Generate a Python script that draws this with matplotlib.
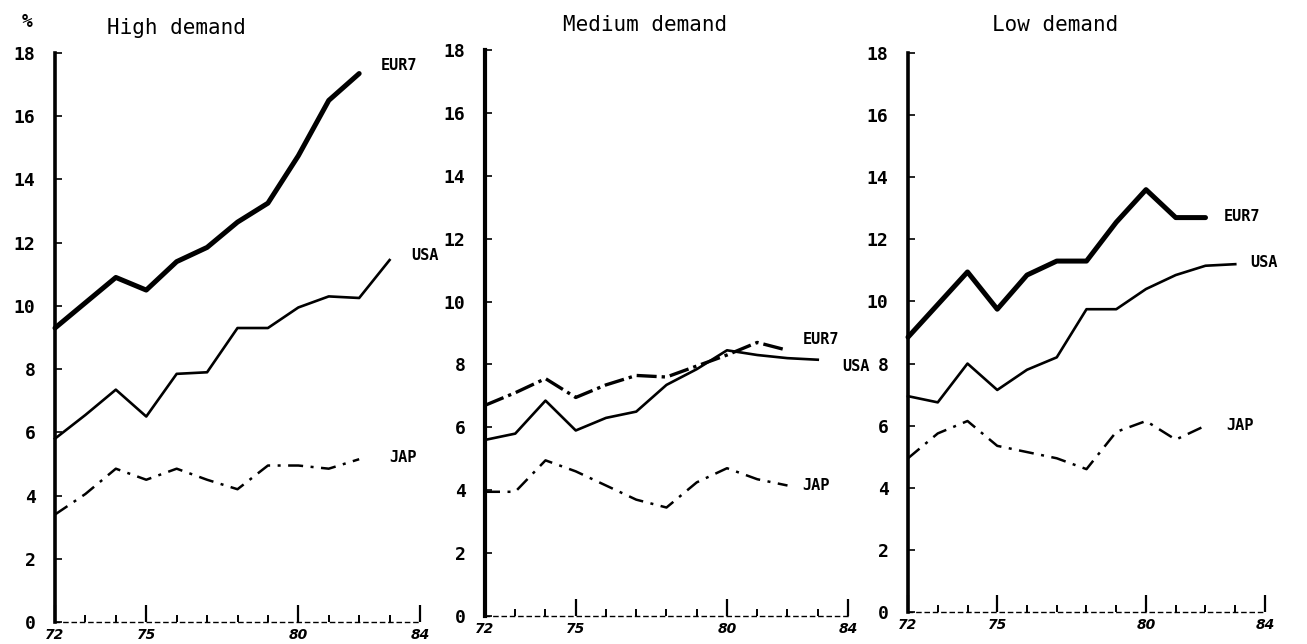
import matplotlib
matplotlib.use("Agg")
import matplotlib.pyplot as plt
import numpy as np

# ---------------- data ----------------
panel_titles = ["High demand", "Medium demand", "Low demand"]
series_names = ["EUR7", "USA", "JAP"]

high_eur7_years = list(range(72, 83))
high_eur7 = [9.3, 10.1, 10.9, 10.5, 11.4, 11.85, 12.65, 13.25, 14.75, 16.5, 17.35]
high_usa_years = list(range(72, 84))
high_usa = [5.8, 6.55, 7.35, 6.5, 7.85, 7.9, 9.3, 9.3, 9.95, 10.3, 10.25, 11.45]
high_jap_years = list(range(72, 83))
high_jap = [3.4, 4.05, 4.85, 4.5, 4.85, 4.5, 4.2, 4.95, 4.95, 4.85, 5.15]

med_eur7_years = list(range(72, 83))
med_eur7 = [6.7, 7.1, 7.55, 6.95, 7.35, 7.65, 7.6, 7.95, 8.3, 8.7, 8.45]
med_usa_years = list(range(72, 84))
med_usa = [5.6, 5.8, 6.85, 5.9, 6.3, 6.5, 7.35, 7.85, 8.45, 8.3, 8.2, 8.15]
med_jap_years = list(range(72, 83))
med_jap = [3.95, 3.95, 4.95, 4.6, 4.15, 3.7, 3.45, 4.25, 4.7, 4.35, 4.15]

low_eur7_years = list(range(72, 83))
low_eur7 = [8.85, 9.9, 10.95, 9.75, 10.85, 11.3, 11.3, 12.55, 13.6, 12.7, 12.7]
low_usa_years = list(range(72, 84))
low_usa = [6.95, 6.75, 8.0, 7.15, 7.8, 8.2, 9.75, 9.75, 10.4, 10.85, 11.15, 11.2]
low_jap_years = list(range(72, 83))
low_jap = [4.95, 5.75, 6.15, 5.35, 5.15, 4.95, 4.6, 5.8, 6.15, 5.55, 6.0]

y_ticks = [0, 2, 4, 6, 8, 10, 12, 14, 16, 18]
x_tick_years = [72, 75, 80, 84]
x_tick_labels = ["72", "75", "80", "84"]
all_years = list(range(72, 85))

# label anchor positions (data coords) for series names
label_pos = [
    {"EUR7": (82.7, 17.6), "USA": (83.7, 11.6), "JAP": (83.0, 5.2)},
    {"EUR7": (82.5, 8.8), "USA": (83.8, 7.95), "JAP": (82.5, 4.15)},
    {"EUR7": (82.6, 12.75), "USA": (83.5, 11.25), "JAP": (82.7, 6.0)},
]

panels = [
    [(high_eur7_years, high_eur7), (high_usa_years, high_usa), (high_jap_years, high_jap)],
    [(med_eur7_years, med_eur7), (med_usa_years, med_usa), (med_jap_years, med_jap)],
    [(low_eur7_years, low_eur7), (low_usa_years, low_usa), (low_jap_years, low_jap)],
]

# ---------------- layout ----------------
W, H = 1307, 644
fig = plt.figure(figsize=(W / 100, H / 100), dpi=100)
fig.patch.set_facecolor("white")

# pixel boxes: (left x, right x, y of 0, y of 18)
boxes = [(55, 420, 622, 53), (485, 848, 616, 50), (908, 1265, 612, 53)]
title_px = [(176, 28), (645, 25), (1055, 25)]

mono = "DejaVu Sans Mono"

for i, (l, r, y0, y18) in enumerate(boxes):
    ax = fig.add_axes([l / W, 1 - y0 / H, (r - l) / W, (y0 - y18) / H])
    ax.set_xlim(72, 84)
    ax.set_ylim(0, 18)
    ax.set_facecolor("none")
    for s in ["top", "right"]:
        ax.spines[s].set_visible(False)
    ax.spines["left"].set_linewidth(2.6 if i != 1 else 3.0)
    ax.spines["bottom"].set_linewidth(1.0)
    ax.spines["bottom"].set_linestyle((0, (3, 3)))

    ax.set_yticks(y_ticks)
    ax.set_yticklabels([str(v) for v in y_ticks], fontfamily=mono,
                       fontsize=13, fontweight="bold")
    ax.tick_params(axis="y", direction="in", length=5, width=1.2, pad=14)

    ax.set_xticks(x_tick_years)
    ax.set_xticklabels(x_tick_labels, fontsize=10, fontstyle="italic",
                       fontweight="bold")
    ax.set_xticks(all_years, minor=True)
    ax.tick_params(axis="x", which="major", direction="in", length=12,
                   width=1.6, pad=4)
    ax.tick_params(axis="x", which="minor", direction="in", length=5,
                   width=1.4)

    (ex, ey), (ux, uy), (jx, jy) = panels[i]
    if i == 1:
        ax.plot(ex, ey, color="black", lw=2.4, dashes=(6, 1.5, 1, 1.5),
                solid_joinstyle="round", clip_on=False)
    else:
        ax.plot(ex, ey, color="black", lw=3.6, solid_joinstyle="round",
                solid_capstyle="round", clip_on=False)
    ax.plot(ux, uy, color="black", lw=1.9, solid_joinstyle="round",
            clip_on=False)
    ax.plot(jx, jy, color="black", lw=1.8, dashes=(6, 3, 1.2, 3),
            clip_on=False)

    for name in series_names:
        px, py = label_pos[i][name]
        ax.text(px, py, name, fontfamily=mono, fontsize=11, fontweight="bold",
                ha="left", va="center", clip_on=False)

    tx, ty = title_px[i]
    fig.text(tx / W, 1 - ty / H, panel_titles[i], fontfamily=mono,
             fontsize=15, ha="center", va="center")

fig.text(27 / W, 1 - 22 / H, "%", fontfamily=mono, fontsize=13,
         fontweight="bold", ha="center", va="center")

fig.savefig("out.png", dpi=100)
